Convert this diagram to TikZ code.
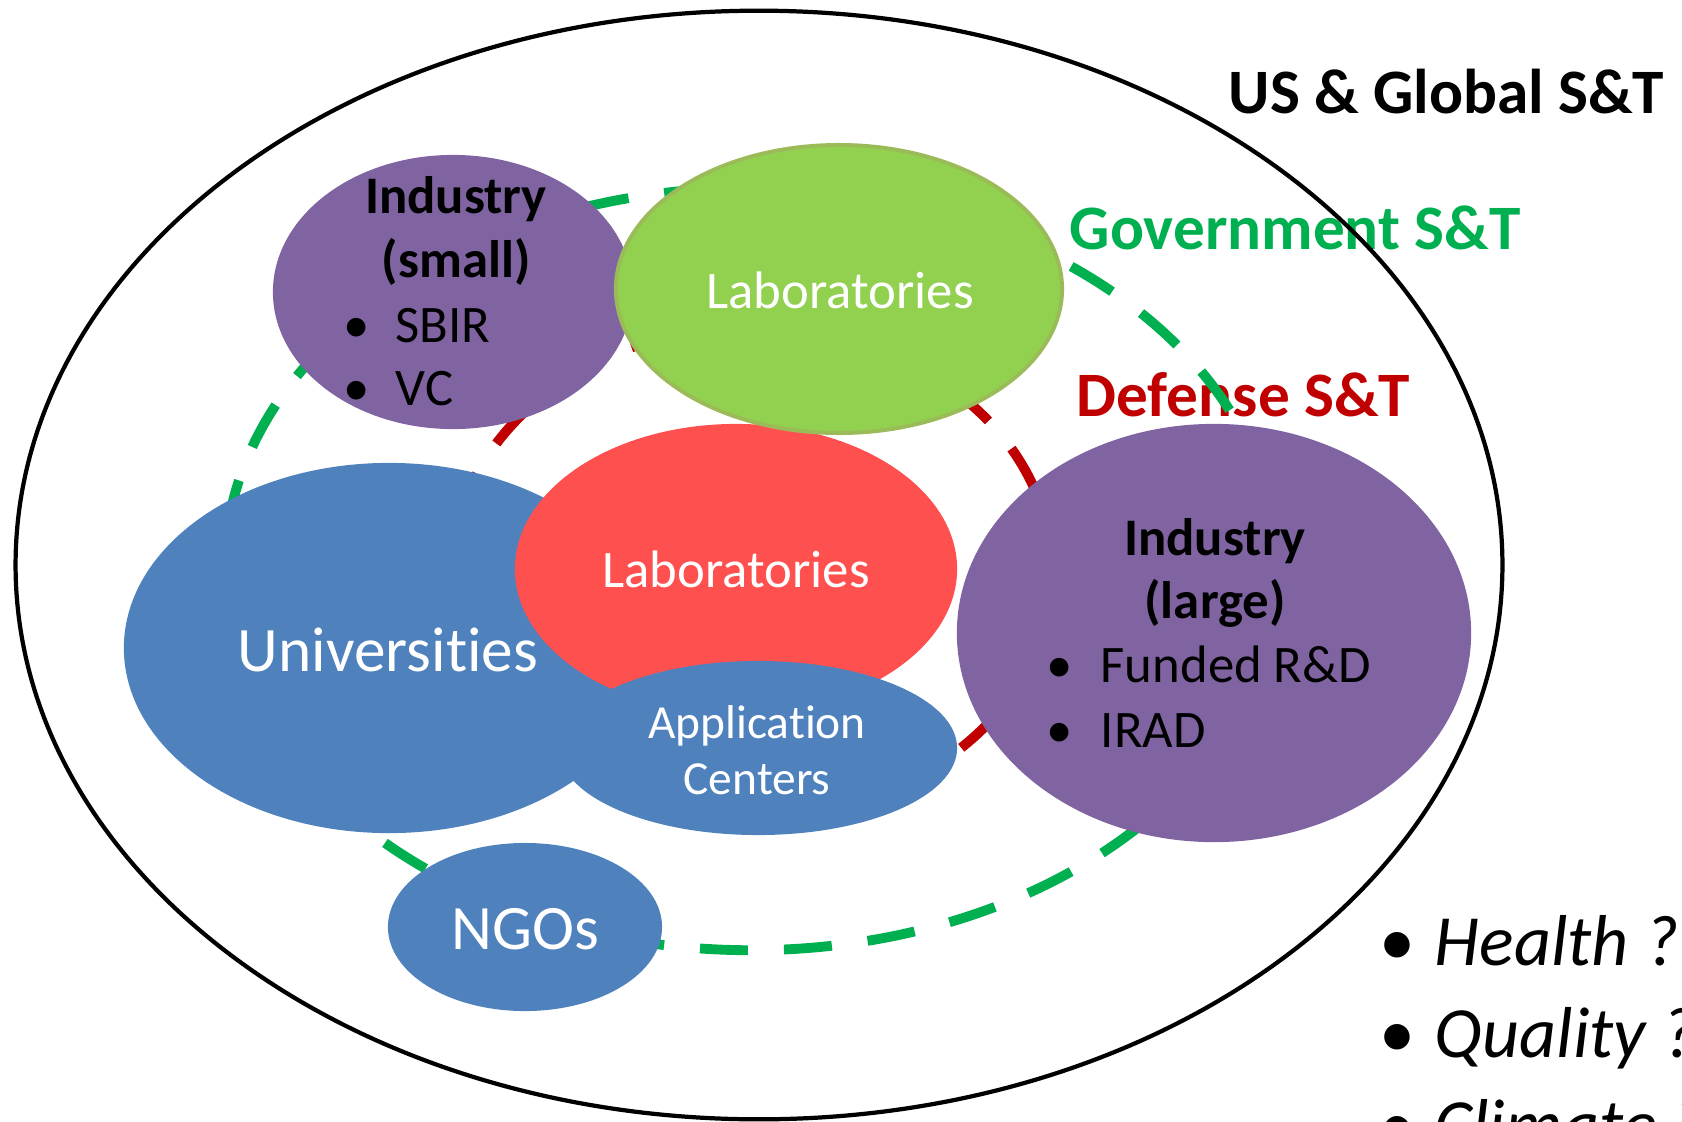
\documentclass[tikz,border=0pt]{standalone}
\usepackage{fontspec}
\setmainfont{Carlito}[Ligatures=NoCommon]
\usetikzlibrary{shapes.geometric}
\definecolor{purp}{HTML}{8064A2}
\definecolor{greenl}{HTML}{92D050}
\definecolor{greenb}{HTML}{9BBB59}
\definecolor{redl}{HTML}{FF5050}
\definecolor{bluel}{HTML}{4F81BD}
\definecolor{govgreen}{HTML}{00B050}
\definecolor{defred}{HTML}{C00000}
\begin{document}
\begin{tikzpicture}[x=0.01cm,y=-0.01cm,
  blob/.style={ellipse, inner sep=0pt, outer sep=0pt},
  ring/.style={ellipse, inner sep=0pt, draw, dash pattern=on 0.48cm off 0.36cm, line width=2.8pt},
  lbl/.style={inner sep=0pt, anchor=base},
  lblw/.style={inner sep=0pt, anchor=base west},
  big/.style={font=\fontsize{18}{22}\selectfont\bfseries},
  hd/.style={font=\fontsize{15}{18}\selectfont\bfseries},
  txt/.style={font=\fontsize{15}{18}\selectfont},
  wtxt/.style={font=\fontsize{18}{22}\selectfont, text=white},
  it/.style={font=\fontsize{20.5}{24}\selectfont\itshape}]
\useasboundingbox (0,0) rectangle (1682,1121);
\clip (0,0) rectangle (1682,1121);
% titles
\node[lbl, big, anchor=base west] (tUS) at (1228,113) {US \& Global S\&T};
\node[lbl, big, anchor=base west, text=govgreen] (tGov) at (1069,249) {Government S\&T};
\node[lbl, big, anchor=base west, text=defred] (tDef) at (1076,416) {Defense S\&T};
% outer ellipse
\node[ellipse, draw, line width=1.2pt, inner sep=0pt, minimum width=14.86cm, minimum height=11.08cm] (outer) at (759,565) {};
% dashed rings
\node[ring, draw=govgreen, minimum width=10.52cm, minimum height=7.62cm] (gov) at (751,569) {};
\node[ring, draw=defred, minimum width=6.00cm, minimum height=4.90cm] (def) at (752,572) {};
% shapes
\node[blob, fill=purp, minimum width=3.60cm, minimum height=2.74cm] (indS) at (453,292) {};
\node[blob, fill=bluel, minimum width=5.30cm, minimum height=3.70cm] (univ) at (389,648) {};
\node[blob, fill=redl, minimum width=4.42cm, minimum height=2.90cm] (labR) at (736,569) {};
\node[blob, fill=greenl, draw=greenb, line width=1.1pt, minimum width=4.46cm, minimum height=2.88cm] (labG) at (839,289) {};
\node[blob, fill=bluel, minimum width=3.98cm, minimum height=1.74cm] (app) at (758,748) {};
\node[blob, fill=purp, minimum width=5.14cm, minimum height=4.18cm] (indL) at (1214,633) {};
\node[blob, fill=bluel, minimum width=2.74cm, minimum height=1.68cm] (ngo) at (525,927) {};
% industry small text
\node[lbl, hd] (sI) at (456,213) {Industry};
\node[lbl, hd] (sS) at (456,277) {(small)};
\node[lbl, txt] (sB1) at (357,342) {•};
\node[lblw, txt] (sT1) at (395,342) {SBIR};
\node[lbl, txt] (sB2) at (357,405) {•};
\node[lblw, txt] (sT2) at (395,405) {VC};
% labs
\node[lbl, txt, text=white] (gLab) at (840,308) {Laboratories};
\node[lbl, txt, text=white] (rLab) at (736,587) {Laboratories};
% universities
\node[lbl, wtxt] (uTxt) at (388,671) {Universities};
% application centers
\node[lbl, font=\fontsize{13.5}{16}\selectfont, text=white] (aT1) at (757,738) {Application};
\node[lbl, font=\fontsize{13.5}{16}\selectfont, text=white] (aT2) at (757,794) {Centers};
% industry large
\node[lbl, hd] (lI) at (1215,555) {Industry};
\node[lbl, hd] (lL) at (1215,618) {(large)};
\node[lbl, txt] (lB1) at (1060,682) {•};
\node[lblw, txt] (lT1) at (1100,682) {Funded R\&D};
\node[lbl, txt] (lB2) at (1060,747) {•};
\node[lblw, txt] (lT2) at (1100,747) {IRAD};
% NGOs
\node[lbl, wtxt] (nTxt) at (525,949) {NGOs};
% right list
\node[lbl, font=\fontsize{20.5}{24}\selectfont] (b1) at (1397,965) {•};
\node[lblw, it] (i1) at (1434,965) {Health ?};
\node[lbl, font=\fontsize{20.5}{24}\selectfont] (b2) at (1397,1057) {•};
\node[lblw, it] (i2) at (1434,1057) {Quality ?};
\node[lbl, font=\fontsize{20.5}{24}\selectfont] (b3) at (1397,1149) {•};
\node[lblw, it] (i3) at (1434,1149) {Climate ?};
\end{tikzpicture}
\end{document}
